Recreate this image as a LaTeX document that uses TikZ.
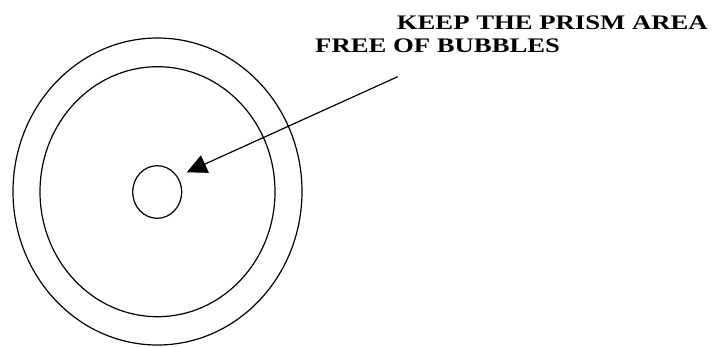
\documentclass[tikz,border=0pt]{standalone}
\usepackage{fontspec}
\setmainfont{Liberation Serif}
\usetikzlibrary{arrows.meta,shapes.geometric}
\newcommand{\widetext}[1]{\scalebox{1.29}[1]{#1}}
\begin{document}
\begin{tikzpicture}[x=1pt,y=-1pt,
  ring/.style={draw=black,line width=1.2pt},
  label/.style={anchor=base west,inner sep=0pt,font=\fontsize{20.7}{24}\selectfont\bfseries},
  pointer/.style={line width=1.2pt,-{Triangle[length=20pt,width=19pt]}}]
\useasboundingbox (0,0) rectangle (714,346);
\draw[ring] (157.5,191.5) ellipse [x radius=144.5, y radius=153.5];
\draw[ring] (157.5,191.7) ellipse [x radius=117.5, y radius=125];
\node[ring,ellipse,draw,minimum width=49pt,minimum height=52.6pt,inner sep=0pt] (prism) at (157.2,192) {};
\node[label] (t1) at (396.7,29.3) {\widetext{KEEP THE PRISM AREA}};
\node[label] (t2) at (315,52.3) {\widetext{FREE OF BUBBLES}};
\coordinate (start) at (397.7,76.7);
\coordinate (tip) at (186.7,172.3);
\draw[pointer] (start) -- (tip);
\end{tikzpicture}
\end{document}
